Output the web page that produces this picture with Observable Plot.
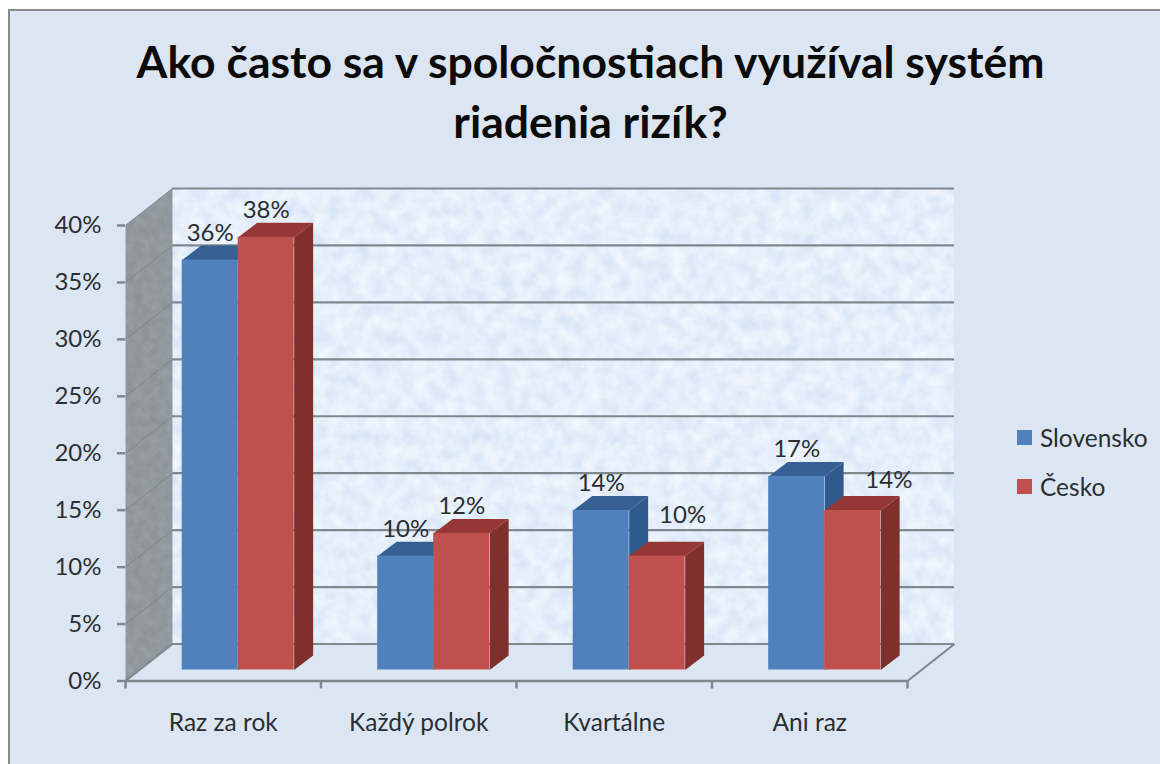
<!DOCTYPE html>
<html lang="sk">
<head>
<meta charset="utf-8">
<script src="https://cdn.jsdelivr.net/npm/d3@7"></script>
<script src="https://cdn.jsdelivr.net/npm/@observablehq/plot@0.6"></script>
<style>
  html, body { margin: 0; padding: 0; background: #fff; overflow: hidden; width: 1160px; height: 764px; }
  #frame { position: absolute; left: 8px; top: 9px; width: 1170px; height: 790px; box-sizing: border-box;
           background: #dce6f2; border: 2.5px solid #8a8a8a; }
  #wrap { position: absolute; left: 0; top: 0; width: 1160px; font-family: Lato, sans-serif; }
  h1 { margin: 0; height: 160px; box-sizing: border-box; padding-top: 31px; padding-left: 21px; text-align: center;
       font: 700 44.5px/60px Lato, sans-serif; color: #0b0b0b; white-space: nowrap; }
  #legend { position: absolute; left: 1017px; top: 0; font: 24.5px Lato, sans-serif; color: #2a2f33; }
  #legend div { position: absolute; white-space: nowrap; left: 0; }
  #legend i { position: absolute; left: 0; top: 7px; width: 15px; height: 15px; }
  #legend span { position: absolute; left: 23px; top: 0; line-height: 29px; }
  svg { display: block; }
</style>
</head>
<body>
<div id="frame"></div>
<div id="wrap">
  <h1 id="title"></h1>
  <div id="plot"></div>
  <div id="legend"></div>
</div>
<script>
const titleLines = ["Ako často sa v spoločnostiach využíval systém", "riadenia rizík?"];
const categories = ["Raz za rok", "Každý polrok", "Kvartálne", "Ani raz"];
const seriesNames = ["Slovensko", "Česko"];
const slovensko = [36, 10, 14, 17];
const cesko = [38, 12, 10, 14];
const yTicks = [0, 5, 10, 15, 20, 25, 30, 35, 40];
const blues = { front: "#4f81bd", side: "#2f5a8e", top: "#365f94" };
const reds = { front: "#c0504d", side: "#7f2f2c", top: "#953735" };

// Oblique projection expressed in data units (category widths and percent points).
const wallDx = 0.2404, wallDy = 3.25;
const baseDy = 0.967, barDx = 0.097, barDy = 1.27;
const barStart = 0.29, barWidth = 0.2864;

const barsFor = (values, index) => values.map((v, i) => ({
  x1: i + barStart + index * barWidth,
  x2: i + barStart + (index + 1) * barWidth,
  y1: baseDy,
  y2: baseDy + v,
  key: i
}));
const sidePoly = bars => bars.flatMap(b => [
  { k: b.key, x: b.x2, y: b.y1 }, { k: b.key, x: b.x2 + barDx, y: b.y1 + barDy },
  { k: b.key, x: b.x2 + barDx, y: b.y2 + barDy }, { k: b.key, x: b.x2, y: b.y2 }
]);
const topPoly = bars => bars.flatMap(b => [
  { k: b.key, x: b.x1, y: b.y2 }, { k: b.key, x: b.x1 + barDx, y: b.y2 + barDy },
  { k: b.key, x: b.x2 + barDx, y: b.y2 + barDy }, { k: b.key, x: b.x2, y: b.y2 }
]);
const poly = (data, fill) => Plot.line(data, { x: "x", y: "y", z: "k", fill, stroke: "none", curve: "linear-closed" });
const barMarks = (values, index, colors) => {
  const bars = barsFor(values, index);
  return [
    poly(sidePoly(bars), colors.side),
    poly(topPoly(bars), colors.top),
    Plot.rect(bars, { x1: "x1", x2: "x2", y1: "y1", y2: "y2", fill: colors.front })
  ];
};

// Data labels: most sit above their bar; the two moved labels carry a nudge.
const labelNudgeX = [[0, 0, 0, 0], [0, 0, 0.13, 0.185]];
const labelNudgeY = [[0, 0, 0, 0], [0, 0, 1.23, 0.35]];
const labels = [slovensko, cesko].flatMap((values, s) => values.map((v, i) => ({
  text: v + "%",
  x: i + barStart + (s + 0.5) * barWidth + labelNudgeX[s][i],
  y: baseDy + v + 2.35 + labelNudgeY[s][i]
})));

const withFilter = id => (index, scales, values, dimensions, context, next) => {
  const g = next(index, scales, values, dimensions, context);
  g.setAttribute("filter", `url(#${id})`);
  return g;
};
const GRID = "#7f888d";

const chart = Plot.plot({
  width: 1160,
  height: 604,
  marginLeft: 125,
  marginRight: 253,
  marginTop: 65,
  marginBottom: 83.5,
  style: { background: "transparent", color: "#2a2f33", fontFamily: "Lato, sans-serif", overflow: "visible" },
  x: { domain: [0, 4], axis: null },
  y: { domain: [0, 40], axis: null },
  marks: [
    // back wall
    Plot.rect([{}], { x1: wallDx, x2: 4 + wallDx, y1: wallDy, y2: 40 + wallDy, fill: "#e6f0fb", render: withFilter("wallTex") }),
    // side wall
    Plot.line([{ x: 0, y: 0 }, { x: wallDx, y: wallDy }, { x: wallDx, y: 40 + wallDy }, { x: 0, y: 40 }],
      { x: "x", y: "y", fill: "#97a0a6", stroke: "none", curve: "linear-closed", render: withFilter("sideTex") }),
    // gridlines
    Plot.ruleY(yTicks, { y: d => d + wallDy, x1: wallDx, x2: 4 + wallDx, stroke: GRID, strokeWidth: 2.2 }),
    Plot.link(yTicks, { x1: 0, y1: d => d, x2: wallDx, y2: d => d + wallDy, stroke: "#7d858a", strokeWidth: 1 }),
    Plot.link([0], { x1: 4, y1: 0, x2: 4 + wallDx, y2: wallDy, stroke: GRID, strokeWidth: 2.2 }),
    Plot.link([0], { x1: 0, y1: 0, x2: wallDx, y2: wallDy, stroke: GRID, strokeWidth: 2 }),
    // axes
    Plot.ruleY([0], { x1: 0, x2: 4, stroke: GRID, strokeWidth: 2.5 }),
    Plot.axisY({ ticks: yTicks, tickFormat: d => d + "%", tickSize: 8, tickPadding: 16, fontSize: 24, stroke: GRID, strokeWidth: 2.5, label: null }),
    Plot.axisX({ ticks: [0, 1, 2, 3, 4], tickFormat: () => "", tickSize: 8, stroke: GRID, strokeWidth: 2.5, label: null }),
    Plot.axisX({ ticks: categories.map((c, i) => i + 0.5), tickFormat: d => categories[Math.floor(d)], tickSize: 0, tickPadding: 33, fontSize: 24.5, label: null }),
    // bars
    ...barMarks(slovensko, 0, blues),
    ...barMarks(cesko, 1, reds),
    Plot.text(labels, { x: "x", y: "y", text: "text", fontSize: 24, fill: "#2a2f33" })
  ]
});
const defs = document.createElementNS("http://www.w3.org/2000/svg", "defs");
defs.innerHTML = `
  <filter id="wallTex" x="0" y="0" width="1" height="1" color-interpolation-filters="sRGB">
    <feTurbulence type="fractalNoise" baseFrequency="0.07" numOctaves="5" seed="7"/>
    <feColorMatrix values="0.16 0 0 0 0.82  0.11 0 0 0 0.88  0.04 0 0 0 0.96  0 0 0 0 1"/>
    <feComposite in2="SourceGraphic" operator="in"/>
  </filter>
  <filter id="sideTex" x="0" y="0" width="1" height="1" color-interpolation-filters="sRGB">
    <feTurbulence type="fractalNoise" baseFrequency="0.12" numOctaves="3" seed="3"/>
    <feColorMatrix values="0.08 0 0 0 0.53  0.08 0 0 0 0.56  0.08 0 0 0 0.58  0 0 0 0 1"/>
    <feComposite in2="SourceGraphic" operator="in"/>
  </filter>`;
chart.prepend(defs);
document.getElementById("plot").append(chart);
document.getElementById("title").innerHTML = titleLines.join("<br>");
const legend = document.getElementById("legend");
seriesNames.forEach((name, i) => {
  const row = document.createElement("div");
  row.style.top = (423 + i * 49) + "px";
  row.innerHTML = `<i style="background:${[blues, reds][i].front}"></i><span>${name}</span>`;
  legend.append(row);
});
</script>
</body>
</html>
